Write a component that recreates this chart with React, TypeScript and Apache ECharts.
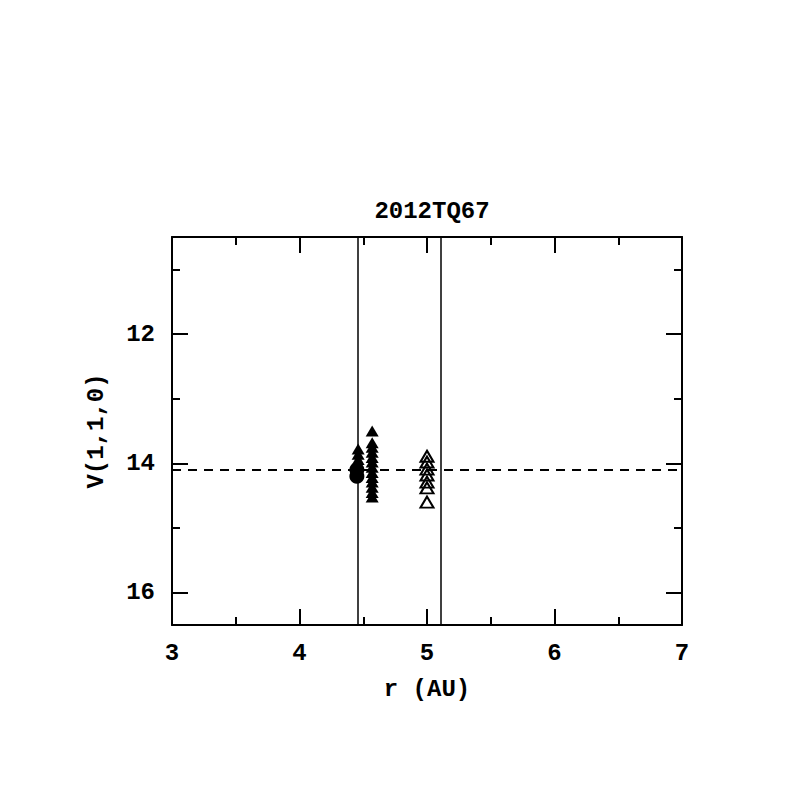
import React, { useEffect, useRef } from "react";
import * as echarts from "echarts";

const TITLE = "2012TQ67";
const X_NAME = "r (AU)";
const Y_NAME = "V(1,1,0)";
const X_MIN = 3;
const X_MAX = 7;
const Y_MIN = 10.5;
const Y_MAX = 16.5;
const Y_MAJOR = [12, 14, 16];
const Y_MINOR = [11, 13, 15];

// filled triangles (first column)
const triA_x = 4.46;
const triA_y = [13.78, 13.86, 13.94, 14.02];
// filled circles
const circ_x = 4.45;
const circ_y = [14.1, 14.2];
// filled triangles (second column)
const triB_x = 4.57;
const triB_y = [13.5, 13.68, 13.75, 13.83, 13.91, 13.98, 14.06, 14.14, 14.22, 14.29, 14.37, 14.45, 14.52];
// open triangles
const triC_x = 5.0;
const triC_y = [13.89, 13.98, 14.09, 14.18, 14.29, 14.38, 14.6];

const V_LINES = [4.464, 5.113];
const H_DASH = 14.1;

const FONT = "Liberation Mono";

export default function App() {
  const ref = useRef<HTMLDivElement>(null);
  useEffect(() => {
    if (!ref.current) return;
    const chart = echarts.init(ref.current, null, { renderer: "svg" });
    const black = "#000";
    const baseX = (pos: "bottom" | "top", labels: boolean) => ({
      type: "value",
      position: pos,
      min: X_MIN,
      max: X_MAX,
      interval: 1,
      name: labels ? X_NAME : "",
      nameLocation: "middle",
      nameGap: 52,
      nameTextStyle: { fontFamily: FONT, fontSize: 24, color: black, fontWeight: "bold" },
      axisLine: { show: true, onZero: false, lineStyle: { color: black, width: 2 } },
      axisTick: { show: true, inside: true, length: 16, lineStyle: { color: black, width: 2 } },
      minorTick: { show: true, splitNumber: 2, length: 8, lineStyle: { color: black, width: 2 } },
      axisLabel: { show: labels, margin: 16, fontFamily: FONT, fontSize: 24, color: black, fontWeight: "bold" },
      splitLine: { show: false },
      minorSplitLine: { show: false },
    });
    const baseY = (pos: "left" | "right", major: boolean, labels: boolean) => ({
      type: "value",
      position: pos,
      inverse: true,
      min: Y_MIN,
      max: Y_MAX,
      name: labels ? Y_NAME : "",
      nameLocation: "middle",
      nameGap: 64,
      nameTextStyle: { fontFamily: FONT, fontSize: 24, color: black, fontWeight: "bold" },
      axisLine: { show: major, onZero: false, lineStyle: { color: black, width: 2 } },
      axisTick: {
        show: true,
        inside: true,
        length: major ? 16 : 8,
        customValues: major ? Y_MAJOR : Y_MINOR,
        lineStyle: { color: black, width: 2 },
      },
      axisLabel: {
        show: labels,
        margin: 17,
        customValues: Y_MAJOR,
        fontFamily: FONT,
        fontSize: 24,
        color: black,
        fontWeight: "bold",
      },
      splitLine: { show: false },
    });

    chart.setOption({
      animation: false,
      backgroundColor: "#fff",
      title: {
        text: TITLE,
        left: 427,
        top: 194,
        textAlign: "center",
        textStyle: { fontFamily: FONT, fontSize: 24, color: black, fontWeight: "bold" },
      },
      grid: { left: 172, top: 237, width: 510, height: 388, containLabel: false },
      xAxis: [baseX("bottom", true), baseX("top", false)],
      yAxis: [
        baseY("left", true, true),
        baseY("left", false, false),
        baseY("right", true, false),
        baseY("right", false, false),
      ],
      series: [
        {
          type: "scatter",
          symbol: "triangle",
          symbolSize: [13, 11],
          itemStyle: { color: black, opacity: 1 },
          data: triA_y.map((y) => [triA_x, y]),
          markLine: {
            silent: true,
            symbol: "none",
            label: { show: false },
            lineStyle: { color: black, width: 1.5, type: "solid", opacity: 1 },
            data: V_LINES.map((v) => ({ xAxis: v })),
          },
        },
        {
          type: "scatter",
          symbol: "triangle",
          symbolSize: [13, 11],
          itemStyle: { color: black, opacity: 1 },
          data: triB_y.map((y) => [triB_x, y]),
          markLine: {
            silent: true,
            symbol: "none",
            label: { show: false },
            lineStyle: { color: black, width: 2, type: [9, 7], opacity: 1 },
            data: [{ yAxis: H_DASH }],
          },
        },
        {
          type: "scatter",
          symbol: "circle",
          symbolSize: 15,
          itemStyle: { color: black, opacity: 1 },
          data: circ_y.map((y) => [circ_x, y]),
        },
        {
          type: "scatter",
          symbol: "triangle",
          symbolSize: [13, 11],
          itemStyle: { color: "rgba(255,255,255,0)", borderColor: black, borderWidth: 2, opacity: 1 },
          data: triC_y.map((y) => [triC_x, y]),
        },
      ],
    });
    return () => chart.dispose();
  }, []);
  return (
    <div
      ref={ref}
      style={{ position: "fixed", left: 0, top: 0, width: 797, height: 797, background: "#fff" }}
    />
  );
}
